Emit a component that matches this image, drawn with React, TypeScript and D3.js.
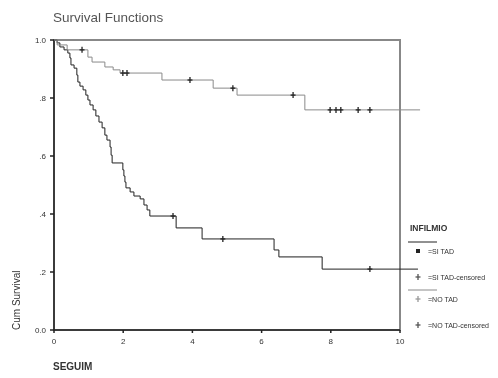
import React from 'react';
import * as d3 from 'd3';

// Kaplan-Meier estimates
const groupNames = ['=SI TAD', '=NO TAD'];

// group 1 (steep drop, black)
const lowTimes = [0.09, 0.17, 0.29, 0.4, 0.46, 0.49, 0.58, 0.66, 0.69, 0.75, 0.84, 0.92, 0.98, 1.04, 1.13, 1.21, 1.3, 1.39, 1.47, 1.53, 1.62, 1.65, 1.68, 1.99, 2.02, 2.05, 2.08, 2.2, 2.31, 2.49, 2.6, 2.69, 2.77, 3.53, 4.28, 6.36, 6.5, 7.75];
const lowSurv = [0.99, 0.976, 0.966, 0.955, 0.938, 0.914, 0.903, 0.879, 0.855, 0.841, 0.828, 0.81, 0.793, 0.776, 0.759, 0.738, 0.717, 0.697, 0.672, 0.655, 0.631, 0.603, 0.576, 0.552, 0.531, 0.51, 0.49, 0.476, 0.462, 0.452, 0.431, 0.414, 0.393, 0.352, 0.314, 0.276, 0.252, 0.21];
const lowCensor = [3.44, 4.88, 9.13];
const lowEnd = 10.52;

// group 2 (upper curve, grey)
const highTimes = [0.09, 0.38, 0.98, 1.1, 1.47, 1.71, 1.91, 3.12, 4.6, 5.29, 7.25];
const highSurv = [0.983, 0.966, 0.941, 0.924, 0.907, 0.897, 0.886, 0.862, 0.834, 0.81, 0.759];
const highCensor = [0.81, 1.99, 2.11, 3.93, 5.17, 6.91, 7.98, 8.15, 8.29, 8.79, 9.13];
const highEnd = 10.58;

const xTicks = [0, 2, 4, 6, 8, 10];
const yTicks = [0, 0.2, 0.4, 0.6, 0.8, 1.0];
const yTickLabels = ['0.0', '.2', '.4', '.6', '.8', '1.0'];

const W = 498;
const H = 378;

const x = d3.scaleLinear().domain([0, 10]).range([54, 400]);
const y = d3.scaleLinear().domain([0, 1]).range([330, 40]);

const stepLine = d3.line<[number, number]>()
  .x(d => x(d[0]))
  .y(d => y(d[1]))
  .curve(d3.curveStepAfter);

function survAt(times: number[], surv: number[], t: number) {
  let s = 1;
  times.forEach((ti, i) => { if (ti <= t) s = surv[i]; });
  return s;
}

function buildPath(times: number[], surv: number[], end: number) {
  const pts: [number, number][] = [[0, 1]];
  times.forEach((t, i) => pts.push([t, surv[i]]));
  pts.push([end, surv[surv.length - 1]]);
  return stepLine(pts) || '';
}

const Cross = ({ cx, cy, color }: { cx: number; cy: number; color: string }) => (
  <g stroke={color} strokeWidth={1.3}>
    <line x1={cx} x2={cx} y1={cy - 3} y2={cy + 3} />
    <line x1={cx - 2.5} x2={cx + 2.5} y1={cy} y2={cy} />
  </g>
);

const groups = [
  { times: lowTimes, surv: lowSurv, censor: lowCensor, end: lowEnd, color: '#222' },
  { times: highTimes, surv: highSurv, censor: highCensor, end: highEnd, color: '#8a8a8a' },
];

export default function App() {
  const font = 'Arial, "Liberation Sans", sans-serif';
  return (
    <svg width={W} height={H} style={{ position: 'absolute', left: 0, top: 0, background: '#fff' }}>
      <defs>
        <filter id="soft" x="-5%" y="-5%" width="110%" height="110%">
          <feGaussianBlur stdDeviation="0.55" />
        </filter>
      </defs>
      <g filter="url(#soft)" fontFamily={font}>
        <text x={53} y={22} fontSize={13.5} fill="#555">Survival Functions</text>

        {/* frame */}
        <rect x={x(0)} y={y(1)} width={x(10) - x(0)} height={y(0) - y(1)} fill="none" stroke="#888" strokeWidth={2} />
        <line x1={x(0)} x2={x(0)} y1={y(1)} y2={y(0)} stroke="#222" strokeWidth={1.5} />
        <line x1={x(0)} x2={x(10)} y1={y(0)} y2={y(0)} stroke="#222" strokeWidth={1.5} />

        {/* y axis */}
        {yTicks.map((v, i) => (
          <g key={'y' + i}>
            <line x1={x(0) - 4} x2={x(0)} y1={y(v)} y2={y(v)} stroke="#222" strokeWidth={1.5} />
            <text x={x(0) - 8} y={y(v) + 3} fontSize={8} textAnchor="end" fill="#333">{yTickLabels[i]}</text>
          </g>
        ))}
        {/* x axis */}
        {xTicks.map(v => (
          <g key={'x' + v}>
            <line x1={x(v)} x2={x(v)} y1={y(0)} y2={y(0) + 3} stroke="#222" strokeWidth={1.5} />
            <text x={x(v)} y={y(0) + 14} fontSize={8} textAnchor="middle" fill="#333">{v}</text>
          </g>
        ))}
        <text transform={`translate(20,${y(0)}) rotate(-90)`} fontSize={10} fill="#333">Cum Survival</text>
        <text x={53} y={370} fontSize={10} fontWeight="bold" fill="#333">SEGUIM</text>

        {/* curves */}
        {groups.map((g, gi) => (
          <g key={'g' + gi}>
            <path d={buildPath(g.times, g.surv, g.end)} fill="none" stroke={g.color} strokeWidth={1} />
            {g.censor.map((t, ci) => (
              <Cross key={ci} cx={x(t)} cy={y(survAt(g.times, g.surv, t))} color="#222" />
            ))}
          </g>
        ))}

        {/* legend */}
        <text x={410} y={231} fontSize={8.5} fontWeight="bold" fill="#333">INFILMIO</text>
        {groups.map((g, gi) => {
          const top = 242 + gi * 48;
          return (
            <g key={'l' + gi}>
              <line x1={408} x2={437} y1={top} y2={top} stroke={g.color} strokeWidth={1} />
              {gi === 0
                ? <rect x={416} y={top + 7} width={4} height={4} fill="#222" />
                : <Cross cx={418} cy={top + 9} color="#999" />}
              <text x={428} y={top + 12} fontSize={7} fill="#333">{groupNames[gi]}</text>
              <Cross cx={418} cy={top + 35} color="#555" />
              <text x={428} y={top + 38} fontSize={7} fill="#333">{groupNames[gi] + '-censored'}</text>
            </g>
          );
        })}
      </g>
    </svg>
  );
}
